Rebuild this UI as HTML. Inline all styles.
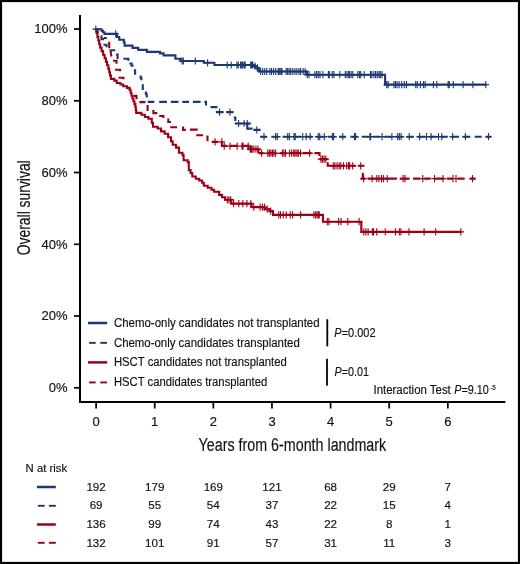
<!DOCTYPE html><html><head><meta charset="utf-8"><style>html,body{margin:0;padding:0;background:#fff}svg{display:block;will-change:transform}text{font-family:"Liberation Sans",sans-serif;fill:#111;stroke:#111;stroke-width:0.15px}</style></head><body>
<svg width="520" height="564" viewBox="0 0 520 564">
<rect x="0" y="0" width="520" height="564" fill="#fff"/>
<rect x="2.5" y="2.5" width="515" height="559" fill="none" stroke="#e4e4e4" stroke-width="1"/>
<rect x="1" y="1" width="518" height="562" fill="none" stroke="#000" stroke-width="2"/>
<rect x="79" y="15" width="2" height="388" fill="#000"/>
<rect x="79" y="401" width="426.3" height="2" fill="#000"/>
<rect x="74" y="28.15" width="5" height="1.7" fill="#000"/>
<text x="67.6" y="33.2" font-size="13" text-anchor="end">100%</text>
<rect x="74" y="99.95" width="5" height="1.7" fill="#000"/>
<text x="67.6" y="105.0" font-size="13" text-anchor="end">80%</text>
<rect x="74" y="171.65" width="5" height="1.7" fill="#000"/>
<text x="67.6" y="176.7" font-size="13" text-anchor="end">60%</text>
<rect x="74" y="243.45" width="5" height="1.7" fill="#000"/>
<text x="67.6" y="248.5" font-size="13" text-anchor="end">40%</text>
<rect x="74" y="315.15" width="5" height="1.7" fill="#000"/>
<text x="67.6" y="320.2" font-size="13" text-anchor="end">20%</text>
<rect x="74" y="386.95" width="5" height="1.7" fill="#000"/>
<text x="67.6" y="392.0" font-size="13" text-anchor="end">0%</text>
<rect x="95.25" y="403" width="1.7" height="5.5" fill="#000"/>
<text x="96.1" y="426.2" font-size="13" text-anchor="middle">0</text>
<rect x="153.87" y="403" width="1.7" height="5.5" fill="#000"/>
<text x="154.7" y="426.2" font-size="13" text-anchor="middle">1</text>
<rect x="212.49" y="403" width="1.7" height="5.5" fill="#000"/>
<text x="213.3" y="426.2" font-size="13" text-anchor="middle">2</text>
<rect x="271.11" y="403" width="1.7" height="5.5" fill="#000"/>
<text x="272.0" y="426.2" font-size="13" text-anchor="middle">3</text>
<rect x="329.73" y="403" width="1.7" height="5.5" fill="#000"/>
<text x="330.6" y="426.2" font-size="13" text-anchor="middle">4</text>
<rect x="388.35" y="403" width="1.7" height="5.5" fill="#000"/>
<text x="389.2" y="426.2" font-size="13" text-anchor="middle">5</text>
<rect x="446.97" y="403" width="1.7" height="5.5" fill="#000"/>
<text x="447.8" y="426.2" font-size="13" text-anchor="middle">6</text>
<text transform="translate(30.4,207.8) rotate(-90)" font-size="18.5" text-anchor="middle" textLength="95" lengthAdjust="spacingAndGlyphs">Overall survival</text>
<text x="198.6" y="451.3" font-size="18" textLength="187.6" lengthAdjust="spacingAndGlyphs">Years from 6-month landmark</text>
<g transform="translate(0,0.3)">
<path d="M95.8,29 H96.6 V32.8 H97.4 V36.6 H98.3 V40.2 H99.2 V43.7 H100.1 V47.3 H101.6 V50.8 H103.1 V54.4 H104.6 V57.9 H105.9 V61.5 H107.1 V65.0 H108.4 V68.6 H109.2 V71.9 H110.1 V75.3 H110.9 V78.6 H114.3 V80.3 H116.7 V82.7 H120.4 V84.2 H123.2 V85.9 H127 V87.6 H129.6 V89.6 H130.6 V92.5 H131.5 V95.4 H132.4 V98.2 H133.4 V101.0 H134.4 V103.8 H135.4 V106.7 H135.8 V109.7 H136.2 V112.6 H141.4 V114.4 H144.9 V116.7 H148.4 V118.4 H151.8 V122.4 H153 V126.5 H157.6 V128.2 H161 V131.1 H164.6 V133.5 H168.1 V137 H171 V141 H172.7 V144.5 H176.1 V147.3 H179 V152.5 H182.5 V154.8 H183.6 V160 H187.7 V161.8 H188.8 V169.8 H190.6 V172.7 H192.3 V176.2 H195.8 V178.5 H199.2 V180.2 H202.1 V182.5 H203.8 V185.4 H207.7 V187.5 H211.5 V189.5 H214 V191.5 H219.2 V194.6 H222 V197 H225 V199.5 H231.3 V203.3 H251.5 V206.8 H264.5 V208.9 H270 V210.8 H273 V214.6 H323 V221.4 H361.3 V231.6 H461.6" stroke="#9d0016" stroke-width="2.1" fill="none"/>
<path d="M224.1,199.5h6.4M225.8,199.5h6.4M227.5,199.5h6.4M230.4,203.3h6.4M235.6,203.3h6.4M239.6,203.3h6.4M243.7,203.3h6.4M247.7,203.3h6.4M250.6,206.8h6.4M256.9,206.8h6.4M259.2,206.8h6.4M261.3,206.8h6.4M264.0,208.9h6.4M267.5,210.8h6.4M275.5,214.6h6.4M277.3,214.6h6.4M280.1,214.6h6.4M283.0,214.6h6.4M287.1,214.6h6.4M289.4,214.6h6.4M297.4,214.6h6.4M310.7,214.6h6.4M312.4,214.6h6.4M313.9,214.6h6.4M315.3,214.6h6.4M316.0,214.6h6.4M324.1,221.4h6.4M325.7,221.4h6.4M335.4,221.4h6.4M337.8,221.4h6.4M344.6,221.4h6.4M355.9,221.4h6.4M360.6,231.6h6.4M362.7,231.6h6.4M364.9,231.6h6.4M369.2,231.6h6.4M370.3,231.6h6.4M373.5,231.6h6.4M382.1,231.6h6.4M392.3,231.6h6.4M396.1,231.6h6.4M397.7,231.6h6.4M405.8,231.6h6.4M420.9,231.6h6.4M432.5,231.6h6.4M457.6,231.6h6.4" stroke="#9d0016" stroke-width="1.4" fill="none"/><path d="M227.3,195.9v7.2M229.0,195.9v7.2M230.7,195.9v7.2M233.6,199.7v7.2M238.8,199.7v7.2M242.8,199.7v7.2M246.9,199.7v7.2M250.9,199.7v7.2M253.8,203.2v7.2M260.1,203.2v7.2M262.4,203.2v7.2M264.5,203.2v7.2M267.2,205.3v7.2M270.7,207.2v7.2M278.7,211.0v7.2M280.5,211.0v7.2M283.3,211.0v7.2M286.2,211.0v7.2M290.3,211.0v7.2M292.6,211.0v7.2M300.6,211.0v7.2M313.9,211.0v7.2M315.6,211.0v7.2M317.1,211.0v7.2M318.5,211.0v7.2M319.2,211.0v7.2M327.3,217.8v7.2M328.9,217.8v7.2M338.6,217.8v7.2M341.0,217.8v7.2M347.8,217.8v7.2M359.1,217.8v7.2M363.8,228.0v7.2M365.9,228.0v7.2M368.1,228.0v7.2M372.4,228.0v7.2M373.5,228.0v7.2M376.7,228.0v7.2M385.3,228.0v7.2M395.5,228.0v7.2M399.3,228.0v7.2M400.9,228.0v7.2M409.0,228.0v7.2M424.1,228.0v7.2M435.7,228.0v7.2M460.8,228.0v7.2" stroke="#9d0016" stroke-width="1.1" fill="none"/>
<path d="M96,29L98.5,32.5 M103.8,37.7H106.8 M109.2,41.5V48 M110.6,50.8L111.4,56.2 M113,60.4H116.5V63.5 M115,69.4H120.1V71 M118.5,77.5H123.5V79 M133.5,95.6H136.5V99 M139.3,101.8H145.5 M147.6,104.8V110.6 M153.4,109.8V112.8H157.3 M159.2,115.7H163.4V117.8 M168.3,118.2V121.7H171 M170.2,126.9H177.1 M183.1,126.3V129.6H185.8 M190,129.3H197.7 M196.2,135H203 M207.5,135.3V141 M211.7,141.6H218.4 M221.9,141.4V145.6H227.3 M230,145.6H237.2 M241.4,145.6H248.4V148.9 M248.4,148.9H258.5V152.8 M258.5,152.8H263.6 M267.4,152.8H275.7 M280.1,152.8H286.5 M289,152.8H300.4 M303,152.8H311.2 M314.4,152.8H319.5V155.8 M319.5,158.8H327.7 M327.7,162V165.5H345 M347.5,165.5H356 M358.5,165.5H364.5 M362.8,172.4V178.3 M360.6,178.3H365.2 M367.5,178.3H396.9 M399.8,178.3H409.6 M413,178.3H420 M424.3,178.3H430.7 M435.3,178.3H444 M446.8,178.3H452.6 M457.8,178.3H464.7 M469.9,178.3H475.5" stroke="#9d0016" stroke-width="2.1" fill="none"/>
<path d="M211.9,141.6h6.4M218.6,141.6h6.4M221.0,145.8h6.4M226.8,145.8h6.4M234.0,145.8h6.4M238.8,145.8h6.4M239.8,145.8h6.4M245.0,145.8h6.4M247.0,148.9h6.4M247.9,148.9h6.4M248.9,148.9h6.4M250.6,148.9h6.4M252.7,148.9h6.4M254.7,148.9h6.4M258.4,152.9h6.4M264.6,152.9h6.4M266.2,152.9h6.4M267.7,152.9h6.4M269.3,152.9h6.4M270.8,152.9h6.4M272.4,152.9h6.4M279.1,152.9h6.4M280.7,152.9h6.4M282.3,152.9h6.4M286.4,152.9h6.4M288.5,152.9h6.4M290.6,152.9h6.4M291.9,152.9h6.4M293.7,152.9h6.4M295.1,152.9h6.4M297.3,152.9h6.4M306.4,152.9h6.4M317.7,158.8h6.4M319.3,158.8h6.4M320.9,158.8h6.4M322.6,158.8h6.4M330.1,165.6h6.4M331.7,165.6h6.4M333.9,165.6h6.4M336.0,165.6h6.4M337.6,165.6h6.4M340.3,165.6h6.4M343.5,165.6h6.4M345.3,165.6h6.4M346.5,165.6h6.4M349.5,165.6h6.4M357.5,165.6h6.4M360.5,178.3h6.4M368.9,178.3h6.4M373.6,178.3h6.4M375.7,178.3h6.4M378.3,178.3h6.4M380.2,178.3h6.4M384.0,178.3h6.4M399.9,178.3h6.4M401.8,178.3h6.4M419.6,178.3h6.4M431.3,178.3h6.4M439.8,178.3h6.4M449.8,178.3h6.4M452.8,178.3h6.4M469.3,178.3h6.4" stroke="#9d0016" stroke-width="1.4" fill="none"/><path d="M215.1,138.0v7.2M221.8,138.0v7.2M224.2,142.2v7.2M230.0,142.2v7.2M237.2,142.2v7.2M242.0,142.2v7.2M243.0,142.2v7.2M248.2,142.2v7.2M250.2,145.3v7.2M251.1,145.3v7.2M252.1,145.3v7.2M253.8,145.3v7.2M255.9,145.3v7.2M257.9,145.3v7.2M261.6,149.3v7.2M267.8,149.3v7.2M269.4,149.3v7.2M270.9,149.3v7.2M272.5,149.3v7.2M274.0,149.3v7.2M275.6,149.3v7.2M282.3,149.3v7.2M283.9,149.3v7.2M285.5,149.3v7.2M289.6,149.3v7.2M291.7,149.3v7.2M293.8,149.3v7.2M295.1,149.3v7.2M296.9,149.3v7.2M298.3,149.3v7.2M300.5,149.3v7.2M309.6,149.3v7.2M320.9,155.2v7.2M322.5,155.2v7.2M324.1,155.2v7.2M325.8,155.2v7.2M333.3,162.0v7.2M334.9,162.0v7.2M337.1,162.0v7.2M339.2,162.0v7.2M340.8,162.0v7.2M343.5,162.0v7.2M346.7,162.0v7.2M348.5,162.0v7.2M349.7,162.0v7.2M352.7,162.0v7.2M360.7,162.0v7.2M363.7,174.7v7.2M372.1,174.7v7.2M376.8,174.7v7.2M378.9,174.7v7.2M381.5,174.7v7.2M383.4,174.7v7.2M387.2,174.7v7.2M403.1,174.7v7.2M405.0,174.7v7.2M422.8,174.7v7.2M434.5,174.7v7.2M443.0,174.7v7.2M453.0,174.7v7.2M456.0,174.7v7.2M472.5,174.7v7.2" stroke="#9d0016" stroke-width="1.1" fill="none"/>
<path d="M96,29H99.5 M101.5,35V38.8H104.2 M103.4,44.5H106.5V47 M109.5,50H115.3 M116,54.2H117.6V58.8 M123.4,58.5H128.4V60.4 M129.4,63.2H131.6V65.4H133.6 M133.8,70H135.1V74.5 M140.6,75.2V77.5H141.4V80 M141.8,85H142.8V89.6 M145.9,91.3V94H146.8V97.1 M147.7,101.6H154.4 M159.2,101.6H166.9 M170.8,101.6H178.5 M182.3,101.6H189 M192.9,101.6H200.6 M204.4,101.6H206V105.1 M210.5,106.8H217.5 M215.9,111.8H223.6 M226.2,111.8H233.6 M233.9,117.3H235.3V120.7 M234.8,123.2H250.8 M247.3,123.2V128.3H252.5 M253.4,129.6H260.6 M260.0,136.4H267.0M271.3,136.4H278.3M282.6,136.4H289.6M293.9,136.4H300.9M305.2,136.4H312.2M316.5,136.4H323.5M327.8,136.4H334.8M339.1,136.4H346.1M350.4,136.4H357.4M361.7,136.4H368.7M373.0,136.4H380.0M384.3,136.4H391.3M395.6,136.4H402.6M406.9,136.4H413.9M418.2,136.4H425.2M429.5,136.4H436.5M440.8,136.4H447.8M452.1,136.4H459.1M463.4,136.4H470.4M474.7,136.4H481.7M486.0,136.4H491.0" stroke="#1b3970" stroke-width="2.1" fill="none"/>
<path d="M216.3,111.8h6.4M226.7,111.8h6.4M235.4,123.2h6.4M240.9,123.2h6.4M244.1,123.2h6.4M253.6,129.6h6.4M260.8,136.4h6.4M272.4,136.4h6.4M274.1,136.4h6.4M284.5,136.4h6.4M286.2,136.4h6.4M290.8,136.4h6.4M292.0,136.4h6.4M299.5,136.4h6.4M302.9,136.4h6.4M307.0,136.4h6.4M315.0,136.4h6.4M316.5,136.4h6.4M321.1,136.4h6.4M329.2,136.4h6.4M330.4,136.4h6.4M339.6,136.4h6.4M351.3,136.4h6.4M352.3,136.4h6.4M366.7,136.4h6.4M367.4,136.4h6.4M378.9,136.4h6.4M388.7,136.4h6.4M394.5,136.4h6.4M396.2,136.4h6.4M397.9,136.4h6.4M406.0,136.4h6.4M416.4,136.4h6.4M423.3,136.4h6.4M427.9,136.4h6.4M435.3,136.4h6.4M438.6,136.4h6.4M449.4,136.4h6.4M462.2,136.4h6.4M485.3,136.4h6.4" stroke="#1b3970" stroke-width="1.4" fill="none"/><path d="M219.5,108.2v7.2M229.9,108.2v7.2M238.6,119.6v7.2M244.1,119.6v7.2M247.3,119.6v7.2M256.8,126.0v7.2M264.0,132.8v7.2M275.6,132.8v7.2M277.3,132.8v7.2M287.7,132.8v7.2M289.4,132.8v7.2M294.0,132.8v7.2M295.2,132.8v7.2M302.7,132.8v7.2M306.1,132.8v7.2M310.2,132.8v7.2M318.2,132.8v7.2M319.7,132.8v7.2M324.3,132.8v7.2M332.4,132.8v7.2M333.6,132.8v7.2M342.8,132.8v7.2M354.5,132.8v7.2M355.5,132.8v7.2M369.9,132.8v7.2M370.6,132.8v7.2M382.1,132.8v7.2M391.9,132.8v7.2M397.7,132.8v7.2M399.4,132.8v7.2M401.1,132.8v7.2M409.2,132.8v7.2M419.6,132.8v7.2M426.5,132.8v7.2M431.1,132.8v7.2M438.5,132.8v7.2M441.8,132.8v7.2M452.6,132.8v7.2M465.4,132.8v7.2M488.5,132.8v7.2" stroke="#1b3970" stroke-width="1.1" fill="none"/>
<path d="M95.5,29 H101.5 V30.5 H103 V32 H104.5 V33.6 H116.9 V36.7 H119.2 V39.5 H123.8 V42 H124.6 V45.3 H132.5 V47.6 H138.2 V49.6 H146.9 V51.6 H160.1 V53.1 H163.6 V55.1 H175.4 V58.4 H180.7 V60.7 H203.8 V62.5 H214.4 V64.7 H253.3 V65.8 H255.6 V67.5 H257.6 V69.3 H259.2 V71.2 H306.8 V74.4 H385.1 V84.3 H486.3" stroke="#1b3970" stroke-width="2.1" fill="none"/>
<path d="M112.5,33.6h6.4M178.8,60.7h6.4M180.2,60.7h6.4M192.1,60.7h6.4M204.4,62.5h6.4M224.0,64.7h6.4M228.0,64.7h6.4M233.7,64.7h6.4M235.1,64.7h6.4M237.4,64.7h6.4M238.6,64.7h6.4M239.7,64.7h6.4M241.2,64.7h6.4M242.0,64.7h6.4M247.5,64.7h6.4M248.4,64.7h6.4M249.5,64.7h6.4M251.8,65.8h6.4M254.2,67.5h6.4M257.4,71.2h6.4M259.5,71.2h6.4M261.5,71.2h6.4M263.6,71.2h6.4M266.7,71.2h6.4M268.3,71.2h6.4M270.4,71.2h6.4M272.5,71.2h6.4M275.0,71.2h6.4M276.1,71.2h6.4M277.6,71.2h6.4M278.7,71.2h6.4M282.8,71.2h6.4M284.4,71.2h6.4M286.0,71.2h6.4M287.5,71.2h6.4M289.6,71.2h6.4M291.7,71.2h6.4M293.7,71.2h6.4M295.8,71.2h6.4M297.4,71.2h6.4M300.0,71.2h6.4M302.0,71.2h6.4M304.1,74.4h6.4M305.8,74.4h6.4M311.7,74.4h6.4M313.4,74.4h6.4M315.1,74.4h6.4M316.8,74.4h6.4M319.7,74.4h6.4M325.2,74.4h6.4M326.1,74.4h6.4M329.0,74.4h6.4M330.7,74.4h6.4M336.6,74.4h6.4M342.1,74.4h6.4M343.8,74.4h6.4M345.5,74.4h6.4M346.2,74.4h6.4M347.9,74.4h6.4M349.6,74.4h6.4M354.6,74.4h6.4M356.3,74.4h6.4M357.6,74.4h6.4M361.0,74.4h6.4M367.3,74.4h6.4M368.6,74.4h6.4M370.7,74.4h6.4M372.4,74.4h6.4M374.1,74.4h6.4M375.8,74.4h6.4M377.1,74.4h6.4M378.8,74.4h6.4M383.5,84.3h6.4M385.0,84.3h6.4M390.7,84.3h6.4M392.3,84.3h6.4M393.9,84.3h6.4M395.9,84.3h6.4M398.5,84.3h6.4M401.1,84.3h6.4M403.2,84.3h6.4M412.5,84.3h6.4M414.1,84.3h6.4M417.2,84.3h6.4M420.3,84.3h6.4M421.9,84.3h6.4M430.2,84.3h6.4M433.6,84.3h6.4M444.9,84.3h6.4M446.1,84.3h6.4M450.1,84.3h6.4M459.9,84.3h6.4M469.7,84.3h6.4M482.6,84.3h6.4" stroke="#1b3970" stroke-width="1.4" fill="none"/><path d="M115.7,30.0v7.2M182.0,57.1v7.2M183.4,57.1v7.2M195.3,57.1v7.2M207.6,58.9v7.2M227.2,61.1v7.2M231.2,61.1v7.2M236.9,61.1v7.2M238.3,61.1v7.2M240.6,61.1v7.2M241.8,61.1v7.2M242.9,61.1v7.2M244.4,61.1v7.2M245.2,61.1v7.2M250.7,61.1v7.2M251.6,61.1v7.2M252.7,61.1v7.2M255.0,62.2v7.2M257.4,63.9v7.2M260.6,67.6v7.2M262.7,67.6v7.2M264.7,67.6v7.2M266.8,67.6v7.2M269.9,67.6v7.2M271.5,67.6v7.2M273.6,67.6v7.2M275.7,67.6v7.2M278.2,67.6v7.2M279.3,67.6v7.2M280.8,67.6v7.2M281.9,67.6v7.2M286.0,67.6v7.2M287.6,67.6v7.2M289.2,67.6v7.2M290.7,67.6v7.2M292.8,67.6v7.2M294.9,67.6v7.2M296.9,67.6v7.2M299.0,67.6v7.2M300.6,67.6v7.2M303.2,67.6v7.2M305.2,67.6v7.2M307.3,70.8v7.2M309.0,70.8v7.2M314.9,70.8v7.2M316.6,70.8v7.2M318.3,70.8v7.2M320.0,70.8v7.2M322.9,70.8v7.2M328.4,70.8v7.2M329.3,70.8v7.2M332.2,70.8v7.2M333.9,70.8v7.2M339.8,70.8v7.2M345.3,70.8v7.2M347.0,70.8v7.2M348.7,70.8v7.2M349.4,70.8v7.2M351.1,70.8v7.2M352.8,70.8v7.2M357.8,70.8v7.2M359.5,70.8v7.2M360.8,70.8v7.2M364.2,70.8v7.2M370.5,70.8v7.2M371.8,70.8v7.2M373.9,70.8v7.2M375.6,70.8v7.2M377.3,70.8v7.2M379.0,70.8v7.2M380.3,70.8v7.2M382.0,70.8v7.2M386.7,80.7v7.2M388.2,80.7v7.2M393.9,80.7v7.2M395.5,80.7v7.2M397.1,80.7v7.2M399.1,80.7v7.2M401.7,80.7v7.2M404.3,80.7v7.2M406.4,80.7v7.2M415.7,80.7v7.2M417.3,80.7v7.2M420.4,80.7v7.2M423.5,80.7v7.2M425.1,80.7v7.2M433.4,80.7v7.2M436.8,80.7v7.2M448.1,80.7v7.2M449.3,80.7v7.2M453.3,80.7v7.2M463.1,80.7v7.2M472.9,80.7v7.2M485.8,80.7v7.2" stroke="#1b3970" stroke-width="1.1" fill="none"/>
<path d="M92.6,28.8h6.4" stroke="#1b3970" stroke-width="1.4" fill="none"/><path d="M95.8,25.2v7.2" stroke="#1b3970" stroke-width="1.1" fill="none"/>
</g>
<rect x="88" y="321.75" width="19.2" height="2.5" fill="#1b3970"/>
<text x="113.9" y="326.7" font-size="12" textLength="205.7" lengthAdjust="spacingAndGlyphs">Chemo-only candidates not transplanted</text>
<rect x="89.1" y="341.90" width="6.6" height="1.9" fill="#1b3970"/><rect x="100.3" y="341.90" width="6.7" height="1.9" fill="#1b3970"/>
<text x="113.9" y="346.6" font-size="12" textLength="185.9" lengthAdjust="spacingAndGlyphs">Chemo-only candidates transplanted</text>
<rect x="88" y="361.15" width="19.2" height="2.5" fill="#9d0016"/>
<text x="113.9" y="366.1" font-size="12" textLength="172.9" lengthAdjust="spacingAndGlyphs">HSCT candidates not transplanted</text>
<rect x="89.1" y="381.50" width="6.6" height="1.9" fill="#9d0016"/><rect x="100.3" y="381.50" width="6.7" height="1.9" fill="#9d0016"/>
<text x="113.9" y="385.8" font-size="12" textLength="153.4" lengthAdjust="spacingAndGlyphs">HSCT candidates transplanted</text>
<rect x="326.4" y="319.2" width="1.8" height="27.2" fill="#000"/>
<rect x="326.1" y="358.8" width="1.8" height="26.8" fill="#000"/>
<text x="334.3" y="336.5" font-size="12" textLength="41.2" lengthAdjust="spacingAndGlyphs"><tspan font-style="italic">P</tspan>=0.002</text>
<text x="334.5" y="375.8" font-size="12" textLength="34.4" lengthAdjust="spacingAndGlyphs"><tspan font-style="italic">P</tspan>=0.01</text>
<text x="373.5" y="394.4" font-size="12" textLength="77.3" lengthAdjust="spacingAndGlyphs">Interaction Test</text>
<text x="454.2" y="394.4" font-size="12" textLength="34.6" lengthAdjust="spacingAndGlyphs"><tspan font-style="italic">P</tspan>=9.10</text>
<text x="490.2" y="389.6" font-size="7.5" textLength="5.6" lengthAdjust="spacingAndGlyphs">-5</text>
<text x="25.6" y="471.9" font-size="11" textLength="41.5" lengthAdjust="spacingAndGlyphs">N at risk</text>
<rect x="36.9" y="485.75" width="18.9" height="2.5" fill="#1b3970"/>
<text x="96.1" y="491.0" font-size="11.6" text-anchor="middle">192</text>
<text x="154.7" y="491.0" font-size="11.6" text-anchor="middle">179</text>
<text x="213.3" y="491.0" font-size="11.6" text-anchor="middle">169</text>
<text x="272.0" y="491.0" font-size="11.6" text-anchor="middle">121</text>
<text x="330.6" y="491.0" font-size="11.6" text-anchor="middle">68</text>
<text x="389.2" y="491.0" font-size="11.6" text-anchor="middle">29</text>
<text x="447.8" y="491.0" font-size="11.6" text-anchor="middle">7</text>
<rect x="37.8" y="504.85" width="6.9" height="1.9" fill="#1b3970"/><rect x="48.9" y="504.85" width="6.9" height="1.9" fill="#1b3970"/>
<text x="96.1" y="509.4" font-size="11.6" text-anchor="middle">69</text>
<text x="154.7" y="509.4" font-size="11.6" text-anchor="middle">55</text>
<text x="213.3" y="509.4" font-size="11.6" text-anchor="middle">54</text>
<text x="272.0" y="509.4" font-size="11.6" text-anchor="middle">37</text>
<text x="330.6" y="509.4" font-size="11.6" text-anchor="middle">22</text>
<text x="389.2" y="509.4" font-size="11.6" text-anchor="middle">15</text>
<text x="447.8" y="509.4" font-size="11.6" text-anchor="middle">4</text>
<rect x="36.9" y="523.25" width="18.9" height="2.5" fill="#9d0016"/>
<text x="96.1" y="528.0" font-size="11.6" text-anchor="middle">136</text>
<text x="154.7" y="528.0" font-size="11.6" text-anchor="middle">99</text>
<text x="213.3" y="528.0" font-size="11.6" text-anchor="middle">74</text>
<text x="272.0" y="528.0" font-size="11.6" text-anchor="middle">43</text>
<text x="330.6" y="528.0" font-size="11.6" text-anchor="middle">22</text>
<text x="389.2" y="528.0" font-size="11.6" text-anchor="middle">8</text>
<text x="447.8" y="528.0" font-size="11.6" text-anchor="middle">1</text>
<rect x="37.8" y="541.85" width="6.9" height="1.9" fill="#9d0016"/><rect x="48.9" y="541.85" width="6.9" height="1.9" fill="#9d0016"/>
<text x="96.1" y="546.5" font-size="11.6" text-anchor="middle">132</text>
<text x="154.7" y="546.5" font-size="11.6" text-anchor="middle">101</text>
<text x="213.3" y="546.5" font-size="11.6" text-anchor="middle">91</text>
<text x="272.0" y="546.5" font-size="11.6" text-anchor="middle">57</text>
<text x="330.6" y="546.5" font-size="11.6" text-anchor="middle">31</text>
<text x="389.2" y="546.5" font-size="11.6" text-anchor="middle">11</text>
<text x="447.8" y="546.5" font-size="11.6" text-anchor="middle">3</text>
</svg></body></html>
